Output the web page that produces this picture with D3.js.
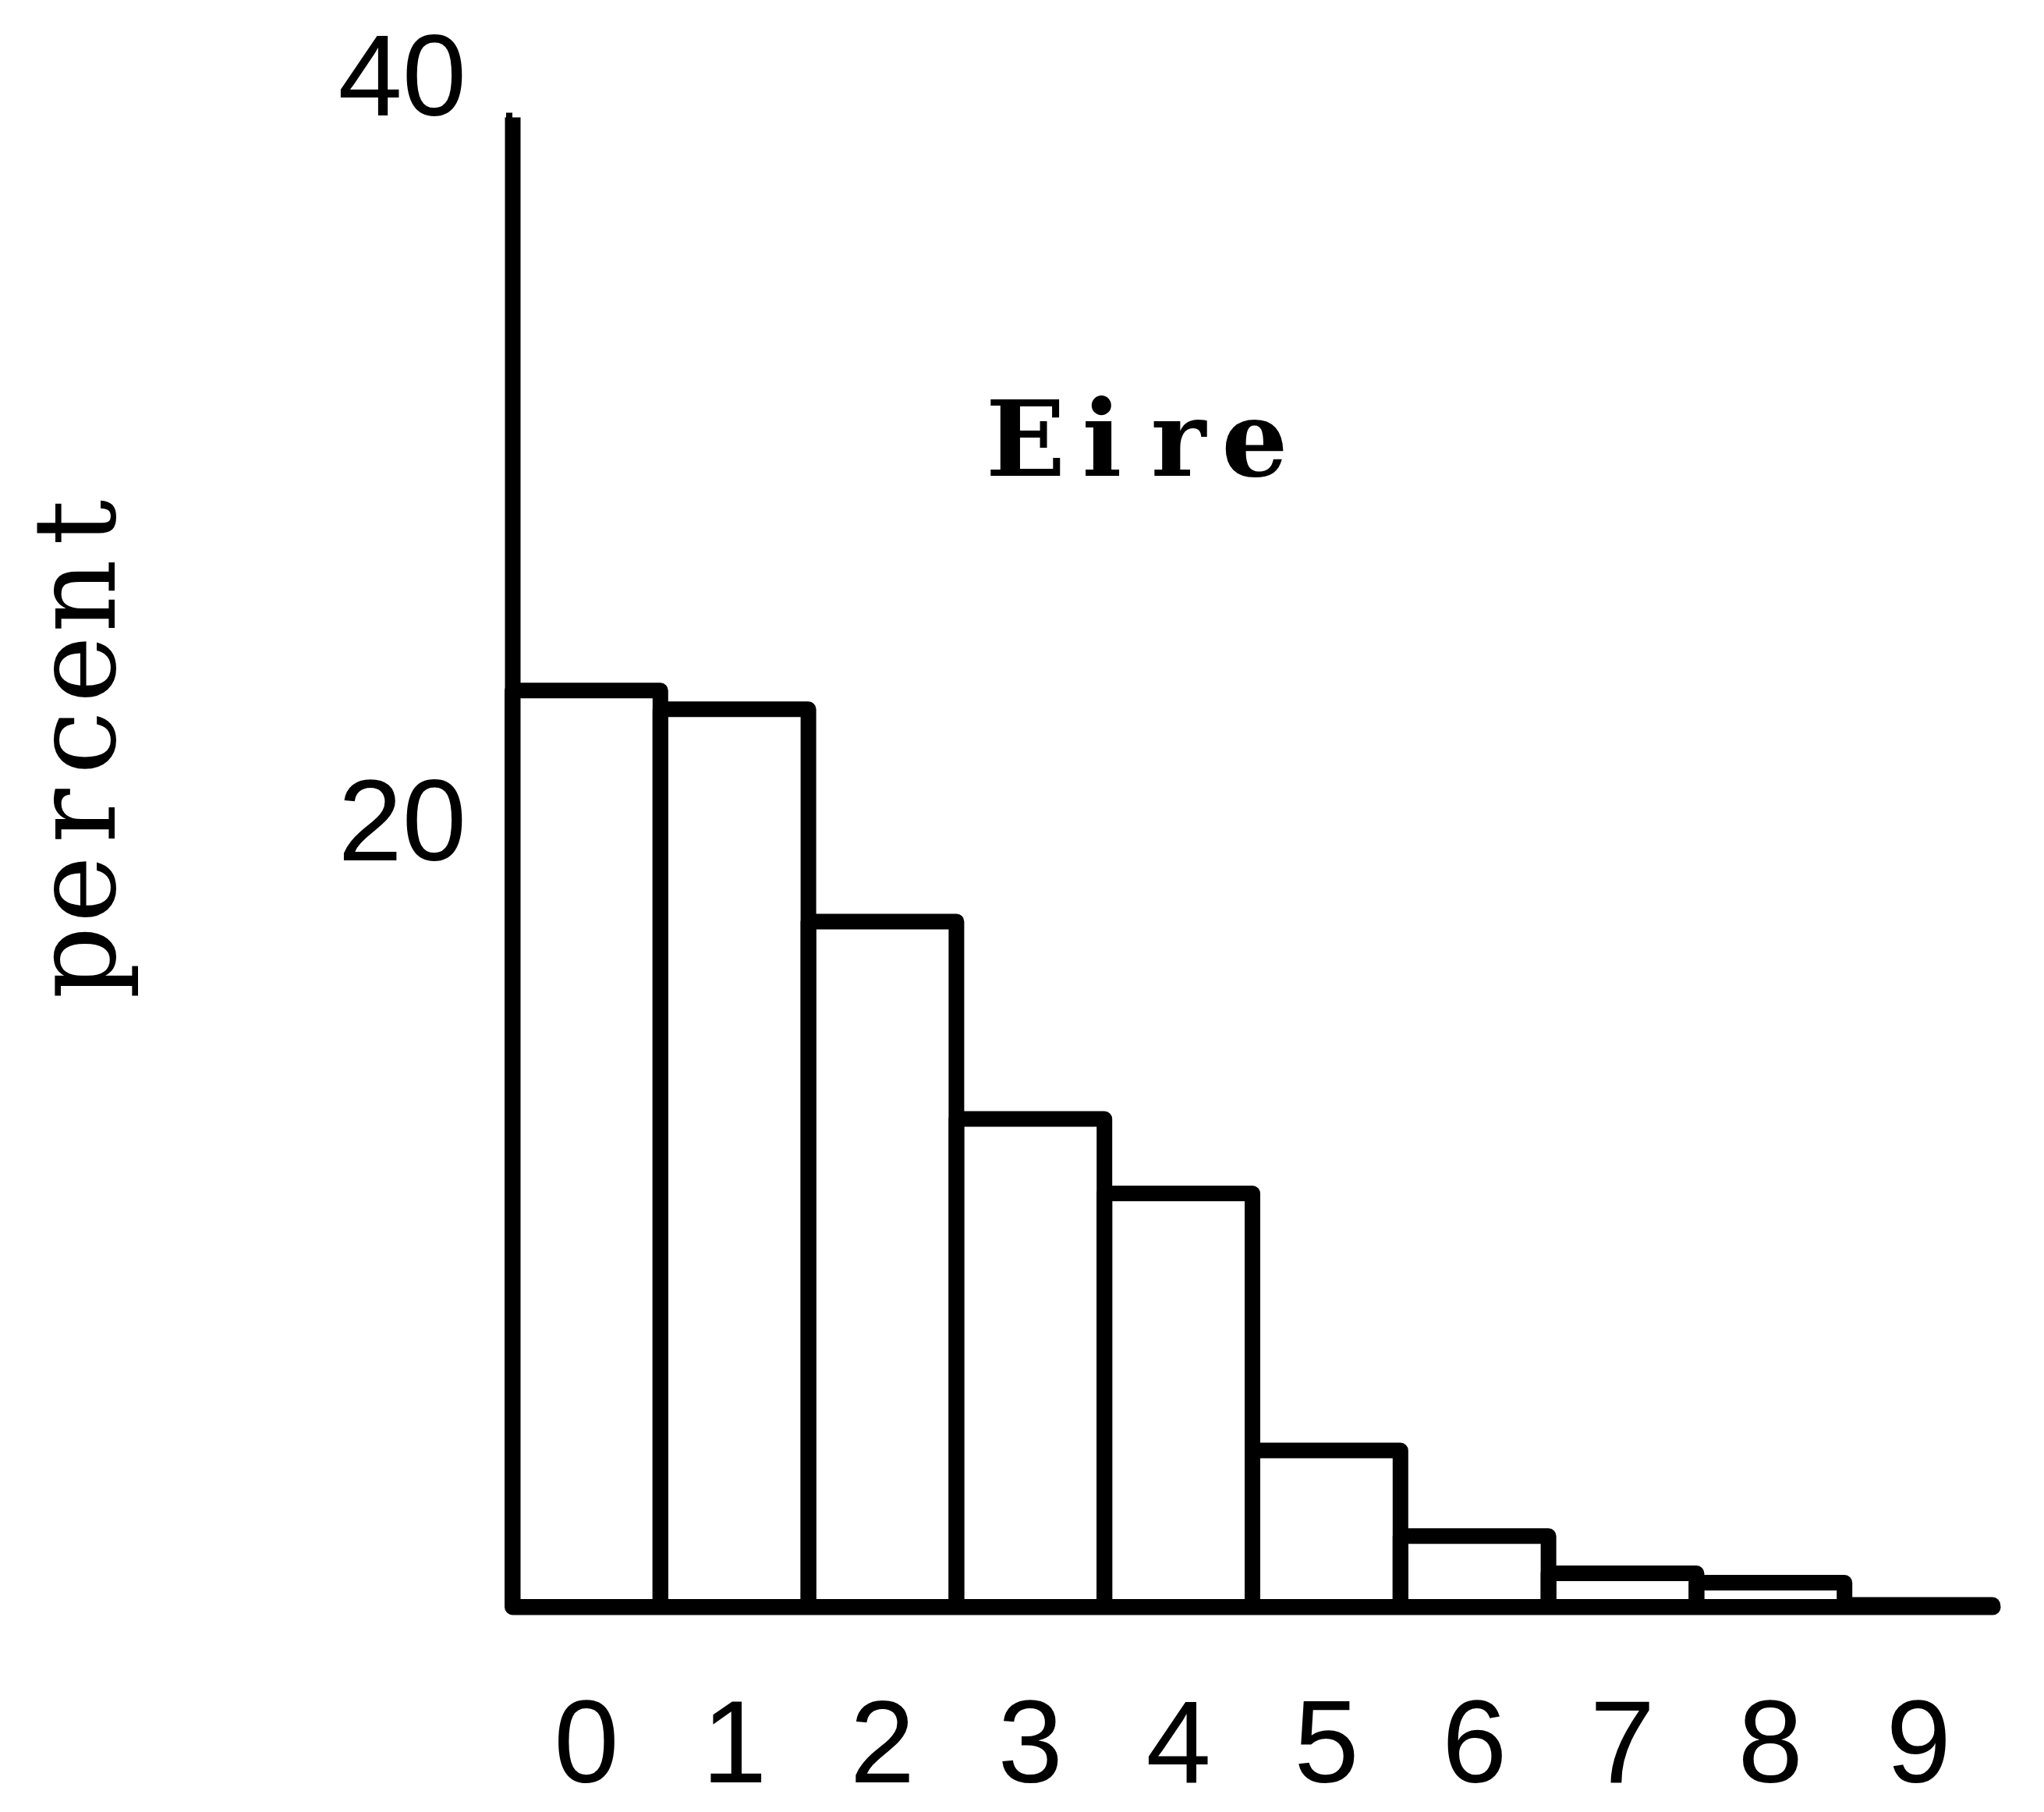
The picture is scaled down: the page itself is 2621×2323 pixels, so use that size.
<!DOCTYPE html>
<html>
<head>
<meta charset="utf-8">
<script src="https://cdn.jsdelivr.net/npm/d3@7"></script>
<style>
  html, body { margin: 0; padding: 0; background: #fff; }
  svg { display: block; }
</style>
</head>
<body>
<script>
// Distribution of family size, Eire (percent of families by number of children)
const categories = ["0", "1", "2", "3", "4", "5", "6", "7", "8", "9"];
const percents   = [24.6, 24.1, 18.4, 13.1, 11.1, 4.2, 1.9, 0.9, 0.65, 0.05];
const yTicks     = [20, 40];
const panelLabel = "Eire";
const yTitle     = "percent";

const W = 2621, H = 2323;
const plot = { left: 657, right: 2555, top: 150, bottom: 2060 };

const svg = d3.select("body").append("svg")
  .attr("width", W).attr("height", H)
  .attr("viewBox", `0 0 ${W} ${H}`);

svg.append("rect").attr("width", W).attr("height", H).attr("fill", "#fff");

const x = d3.scaleBand()
  .domain(categories)
  .range([plot.left, plot.right])
  .paddingInner(0).paddingOuter(0);

const y = d3.scaleLinear()
  .domain([0, 40])
  .range([plot.bottom, plot.top]);

const ink = "#000";
const stroke = 20;

// Bars: open outlined columns sitting side by side
svg.append("g")
  .selectAll("rect")
  .data(percents)
  .join("rect")
    .attr("x", (d, i) => x(categories[i]))
    .attr("y", d => y(d))
    .attr("width", x.bandwidth())
    .attr("height", d => y(0) - y(d))
    .attr("fill", "none")
    .attr("stroke", ink)
    .attr("stroke-width", stroke)
    .attr("stroke-linejoin", "round");

// Y axis
const yAxis = svg.append("g")
  .attr("transform", `translate(${plot.left},0)`)
  .call(d3.axisLeft(y).tickValues(yTicks).tickSize(8).tickSizeOuter(0).tickPadding(51));
yAxis.select(".domain")
  .attr("stroke", ink).attr("stroke-width", stroke).attr("stroke-linecap", "butt");
yAxis.selectAll(".tick line").attr("stroke", ink).attr("stroke-width", 12);
yAxis.selectAll(".tick text")
  .attr("fill", ink)
  .attr("font-family", "'Liberation Sans', Arial, sans-serif")
  .attr("font-size", 148)
  .attr("dy", "-0.02em");

// X axis
const xAxis = svg.append("g")
  .attr("transform", `translate(0,${plot.bottom})`)
  .call(d3.axisBottom(x).tickSize(0).tickSizeOuter(0).tickPadding(118));
xAxis.select(".domain")
  .attr("stroke", ink).attr("stroke-width", stroke).attr("stroke-linecap", "round");
xAxis.selectAll(".tick text")
  .attr("fill", ink)
  .attr("font-family", "'Liberation Sans', Arial, sans-serif")
  .attr("font-size", 150);

// Typewritten titles, set at a fixed character pitch
function typewritten(g, text, pitch, size, weight) {
  const chars = text.split("");
  const mid = (chars.length - 1) / 2;
  g.append("text")
    .attr("font-family", "'DejaVu Serif', serif")
    .attr("font-size", size)
    .attr("font-weight", weight)
    .attr("fill", ink)
    .selectAll("tspan")
    .data(chars)
    .join("tspan")
      .attr("x", (d, i) => (i - mid) * pitch)
      .attr("y", 0)
      .attr("text-anchor", "middle")
      .text(d => d);
}

typewritten(
  svg.append("g").attr("transform", "translate(147,952) rotate(-90)"),
  yTitle, 94, 146, "normal");

typewritten(
  svg.append("g").attr("transform", "translate(1462,610)"),
  panelLabel, 98, 134, "bold");
</script>
</body>
</html>
